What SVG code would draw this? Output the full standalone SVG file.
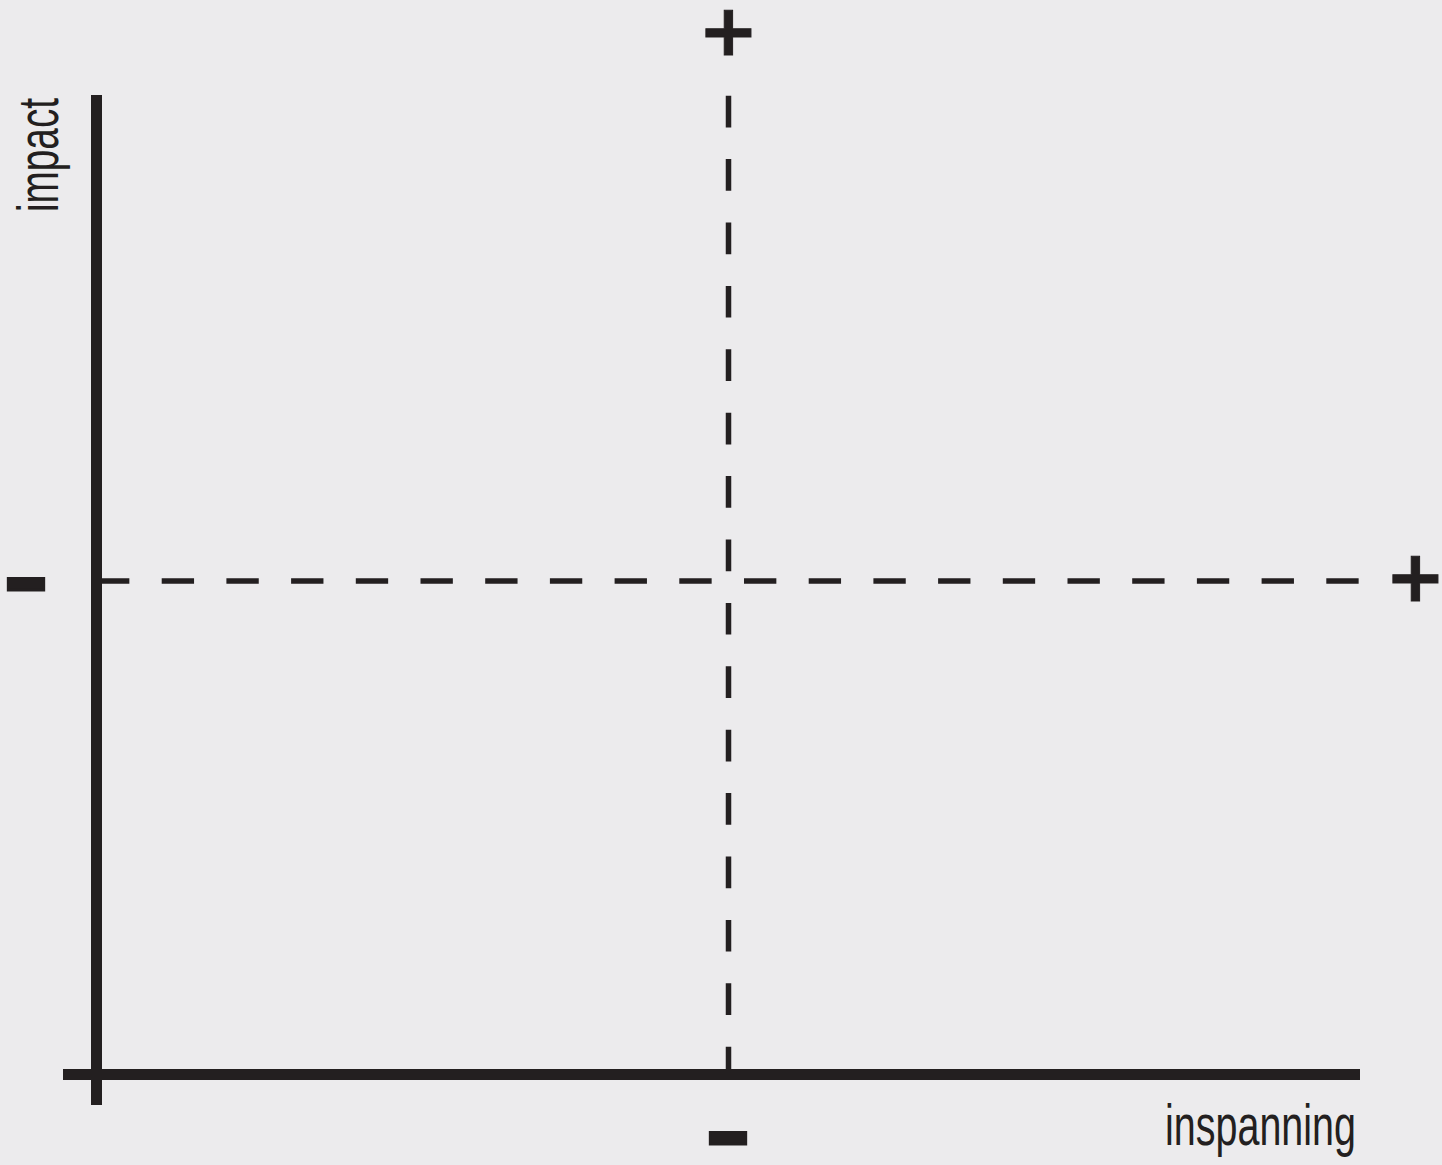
<svg xmlns="http://www.w3.org/2000/svg" width="1442" height="1165" viewBox="0 0 1442 1165">
  <style>
    .axis { fill: #231f20; }
    .dash { stroke: #231f20; stroke-width: 5.5; fill: none; }
    .sign { font-family: "DejaVu Sans", sans-serif; font-weight: bold; fill: #231f20; stroke: #231f20; text-anchor: middle; }
    .label { font-family: "Liberation Sans Narrow", "Liberation Sans", sans-serif; font-size: 58px; fill: #231f20; }
  </style>
  <rect width="1442" height="1165" fill="#ecebed"/>
  <g id="connectors">
    <line class="dash" x1="97" y1="581" x2="1360" y2="581" stroke-dasharray="32.35 32.35"/>
    <line class="dash" x1="728.5" y1="95.7" x2="728.5" y2="1070" stroke-dasharray="31.7 31.7"/>
  </g>
  <g id="axes">
    <rect class="axis" x="91" y="95" width="11" height="1010"/>
    <rect class="axis" x="63" y="1069" width="1297" height="11"/>
  </g>
  <g id="labels">
    <text class="label" transform="translate(58,212) rotate(-90)" textLength="114" lengthAdjust="spacingAndGlyphs">impact</text>
    <text class="label" x="1165" y="1145" textLength="191" lengthAdjust="spacingAndGlyphs">inspanning</text>
  </g>
  <g id="signs">
    <text class="sign" x="728.5" y="55" font-size="72" stroke-width="1">+</text>
    <text class="sign" x="1415.5" y="601" font-size="72" stroke-width="1">+</text>
    <text class="sign" x="26" y="608.5" font-size="90" stroke-width="3">–</text>
    <text class="sign" x="728" y="1162.5" font-size="90" stroke-width="3">–</text>
  </g>
</svg>
